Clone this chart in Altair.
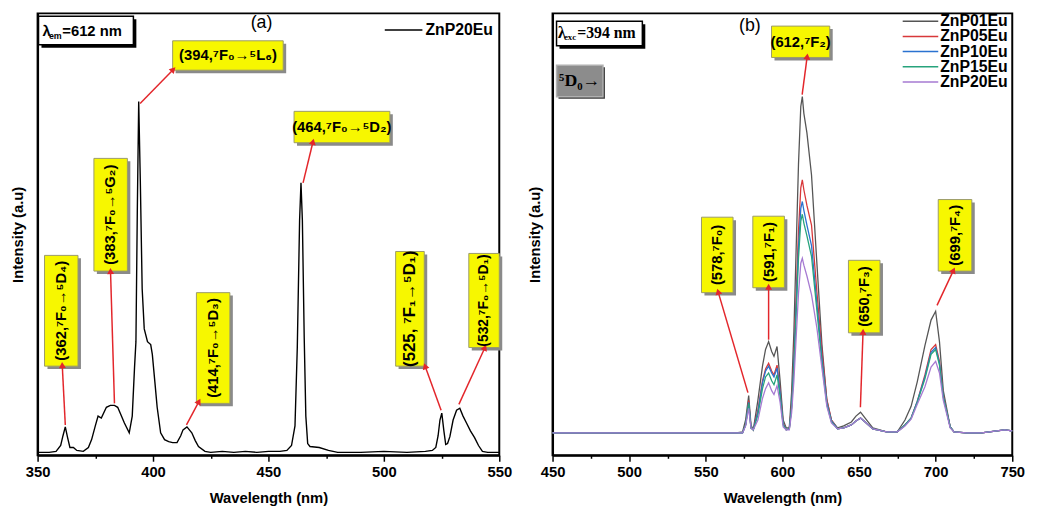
import altair as alt
import pandas as pd

SANS = "Liberation Sans"
SERIF = "Liberation Serif"

# ---------------- Panel (a): excitation spectrum ZnP20Eu (λem = 612 nm)
wl_a = [350, 355, 358, 360, 361, 362, 363, 364, 365.5, 367, 369.8, 372, 373.4, 375, 376.2,
        377.6, 379.8, 381.5, 383.3, 384.7, 386, 387.6, 389.7, 391, 392, 392.6, 393.2, 393.8,
        394.5, 395.3, 396.2, 397.6, 399, 399.7, 400.8, 401.8, 403.3, 405, 406.8, 408.5, 410.4,
        412, 413, 414.7, 416.8, 418.3, 419.7, 422.5, 425, 430, 435, 440, 445, 450, 455, 458,
        460, 461.5, 462.5, 463.5, 464.1, 464.7, 465.5, 466.2, 467, 468, 472, 476, 480, 490,
        500, 510, 518, 521, 522.5, 523.5, 524.3, 525.1, 526, 526.8, 527.6, 528.6, 530, 531.5,
        532.9, 534.3, 535.8, 537.5, 539.3, 541, 542.7, 545, 548, 550]
int_a = [3, 3, 4, 10, 20, 29, 18, 8, 8, 5, 4, 8, 16, 30, 40,
         38, 49, 51, 51, 49, 42, 33, 23, 40, 90, 116, 250, 361,
         280, 170, 129, 116, 113, 103, 75, 49, 23, 16, 14, 13, 13,
         20, 26, 29, 23, 15, 9, 4, 3, 4, 3, 4, 3, 4, 4, 5,
         10, 30, 110, 240, 278, 240, 120, 40, 12, 9, 8, 5, 3, 3,
         4, 3, 4, 5, 8, 20, 36, 43, 25, 11, 12, 19, 36, 46,
         48, 40, 33, 25, 18, 10, 4, 3, 3, 3]

# ---------------- Panel (b): emission spectra (λexc = 394 nm)
wl_b = [450, 500, 550, 570, 574, 576, 578, 579.5, 581, 584, 587, 589, 591, 593, 594.5, 596.5,
        598.5, 600.5, 602.5, 604.5, 606, 607.5, 609, 610.5, 612, 613, 614, 616, 619, 622.5,
        625.8, 629, 632, 636, 640, 645, 648, 651, 654, 659, 668, 675, 680, 684, 688, 693, 697,
        700, 702.5, 705, 709.5, 712, 720, 730, 740, 745, 750]
znp01 = [23, 23, 23, 23, 24, 36, 61, 31, 26, 56, 91, 108, 116, 106, 101, 111,
         76, 36, 28, 28, 64, 126, 212, 297, 356, 366, 349, 329, 286, 196,
         113, 56, 36, 28, 30, 34, 40, 44, 38, 28, 24, 24, 36, 50, 75, 112, 138,
         147, 116, 66, 29, 24, 23, 23, 25, 26, 25]
znp05 = [23, 23, 23, 23, 23, 31, 56, 28, 26, 46, 76, 88, 94, 86, 82, 92,
         66, 33, 26, 27, 51, 100, 165, 229, 273, 281, 271, 255, 235, 167,
         106, 57, 36, 27, 28, 31, 35, 38, 34, 27, 24, 24, 31, 38, 55, 82, 108,
         113, 96, 61, 29, 24, 23, 23, 25, 26, 25]
znp10 = [23, 23, 23, 23, 23, 31, 54, 28, 26, 44, 74, 86, 91, 84, 80, 89,
         64, 32, 26, 27, 49, 94, 153, 212, 252, 259, 250, 235, 214, 155,
         99, 54, 35, 27, 28, 31, 35, 38, 34, 27, 24, 24, 31, 38, 55, 80, 105,
         110, 94, 60, 29, 24, 23, 23, 25, 26, 25]
znp15 = [23, 23, 23, 23, 23, 31, 53, 28, 26, 41, 68, 80, 84, 76, 72, 82,
         60, 31, 26, 27, 48, 90, 146, 201, 239, 246, 237, 224, 203, 148,
         94, 52, 34, 27, 28, 31, 35, 38, 34, 27, 24, 24, 31, 38, 54, 78, 103,
         108, 92, 59, 29, 24, 23, 23, 25, 26, 25]
znp20 = [23, 23, 23, 23, 23, 30, 48, 28, 26, 36, 58, 68, 74, 66, 62, 71,
         54, 29, 26, 26, 43, 76, 121, 165, 196, 201, 194, 183, 164, 130,
         89, 50, 33, 27, 28, 31, 35, 38, 34, 27, 24, 24, 30, 37, 52, 70, 90,
         96, 84, 56, 28, 24, 23, 23, 25, 26, 25]

series_names = ["ZnP01Eu", "ZnP05Eu", "ZnP10Eu", "ZnP15Eu", "ZnP20Eu"]
series_vals = [znp01, znp05, znp10, znp15, znp20]
series_colors = ["#555555", "#d8383a", "#2a72d0", "#27a37c", "#a67ad2"]

# ---------------- Annotations, panel (a)
a_box_x1 = [408.5, 461.1, 353.0, 374.4, 418.8, 505.1, 536.8]
a_box_x2 = [456.4, 502.6, 367.5, 388.9, 433.3, 517.5, 550.0]
a_box_y1 = [423, 351, 204, 303, 166, 208, 206]
a_box_y2 = [393, 319, 91, 188, 53, 91, 110]
a_lab_x = [432.5, 481.8, 360.3, 381.6, 426.1, 511.3, 543.4]
a_lab_y = [408, 335, 147.5, 245.5, 109.5, 149.5, 158]
a_lab_text = ["(394,⁷F₀→⁵L₆)", "(464,⁷F₀→⁵D₂)", "(362,⁷F₀→⁵D₄)", "(383,⁷F₀→⁵G₂)",
              "(414,⁷F₀→⁵D₃)", "(525, ⁷F₁→⁵D₁)", "(532,⁷F₀→⁵D₁)"]
a_lab_angle = [0, 0, 270, 270, 270, 270, 270]
a_lab_size = [15, 15, 15, 15, 15, 17, 14]
a_arr_x1 = [394.4, 465.0, 362.0, 383.3, 414.5, 524.8, 532.5]
a_arr_y1 = [359, 278, 31, 53, 31, 46, 52]
a_arr_x2 = [408.5, 469.2, 360.7, 381.6, 419.7, 518.0, 543.6]
a_arr_y2 = [393, 319, 91, 187, 54, 90, 109]
a_arr_angle = [44, 14, 357, 358, 28, 340, 24]

# ---------------- Annotations, panel (b)
b_box_x1 = [592.9, 547.2, 580.7, 643.1, 701.7]
b_box_x2 = [630.9, 567.8, 601.3, 663.7, 723.6]
b_box_y1 = [438, 243, 244, 199, 261]
b_box_y2 = [406, 166, 171, 125, 188]
b_lab_x = [611.9, 557.5, 591.0, 653.4, 712.6]
b_lab_y = [422, 204.5, 207.5, 162, 224.5]
b_lab_text = ["(612,⁷F₂)", "(578,⁷F₀)", "(591,⁷F₁)", "(650,⁷F₃)", "(699,⁷F₄)"]
b_lab_angle = [0, 270, 270, 270, 270]
b_arr_x1 = [612.9, 577.5, 591.0, 650.9, 700.9]
b_arr_y1 = [368, 64, 118, 49, 153]
b_arr_x2 = [616.1, 558.2, 591.0, 652.6, 711.4]
b_arr_y2 = [406, 166, 171, 125, 188]
b_arr_angle = [7, 344, 0, 2, 25]

YELLOW = "#f7f700"
RED = "#e3262b"

ticks_a = [350, 375, 400, 425, 450, 475, 500, 525, 550]
ticks_b = [450, 475, 500, 525, 550, 575, 600, 625, 650, 675, 700, 725, 750]

W_A, W_B, H = 468, 466, 448
YDOM = [0, 451]


def x_axis(vals):
    return alt.Axis(values=vals, title="Wavelength (nm)", format="d",
                    labelExpr="datum.value % 50 === 0 ? datum.label : ''",
                    tickSize={"condition": {"test": "datum.value % 50 !== 0", "value": 3}, "value": 6},
                    labelPadding=3, titlePadding=12, labelFlush=False)


def y_axis(pad):
    return alt.Axis(labels=False, ticks=False, title="Intensity (a.u)", titlePadding=pad)


def panel(xdom, ticks, ypad, width, main_layers, boxes, labels, arrows, extra_layers):
    xs = alt.Scale(domain=xdom, nice=False, zero=False)
    ys = alt.Scale(domain=YDOM, nice=False, zero=False)
    xa = x_axis(ticks)
    ya = y_axis(ypad)

    def X(f):
        return alt.X(f, type="quantitative", scale=xs, axis=xa)

    def Y(f):
        return alt.Y(f, type="quantitative", scale=ys, axis=ya)

    layers = []
    for df, mark in main_layers:
        layers.append(mark(alt.Chart(df)).encode(x=X("x"), y=Y("y")))
    shadow = alt.Chart(boxes).mark_rect(color="#8a8a8a", xOffset=3, x2Offset=3,
                                        yOffset=3, y2Offset=3).encode(
        x=X("x1"), x2="x2", y=Y("y1"), y2="y2")
    box = alt.Chart(boxes).mark_rect(color=YELLOW, stroke="#9a9a6a", strokeWidth=1).encode(
        x=X("x1"), x2="x2", y=Y("y1"), y2="y2")
    arr_line = alt.Chart(arrows).mark_rule(color=RED, strokeWidth=1.5).encode(
        x=X("x1"), x2="x2", y=Y("y1"), y2="y2")
    arr_head = alt.Chart(arrows).mark_point(shape="triangle", filled=True, color=RED,
                                            opacity=1, size=50).encode(
        x=X("x2"), y=Y("y2"), angle=alt.Angle("angle:Q", scale=None))
    txt = alt.Chart(labels).mark_text(font=SANS, fontWeight="bold", color="black",
                                      align="center", baseline="middle").encode(
        x=X("x"), y=Y("y"), text="text:N",
        angle=alt.Angle("angle:Q", scale=None), size=alt.Size("size:Q", scale=None))
    layers += [shadow, box, arr_line, arr_head, txt]
    for df, mk, enc in extra_layers:
        e = dict(enc)
        e["x"] = X(e["x"])
        e["y"] = Y(e["y"])
        layers.append(mk(alt.Chart(df)).encode(**e))
    return alt.layer(*layers).properties(width=width, height=H)


# ---------- panel (a) data frames
df_a = pd.DataFrame({"x": wl_a, "y": int_a})
boxes_a = pd.DataFrame({"x1": a_box_x1, "x2": a_box_x2, "y1": a_box_y1, "y2": a_box_y2})
labels_a = pd.DataFrame({"x": a_lab_x, "y": a_lab_y, "text": a_lab_text,
                         "angle": a_lab_angle, "size": a_lab_size})
arrows_a = pd.DataFrame({"x1": a_arr_x1, "y1": a_arr_y1, "x2": a_arr_x2, "y2": a_arr_y2,
                         "angle": a_arr_angle})
lam_a_box = pd.DataFrame({"x1": [350.4], "x2": [391.5], "y1": [448], "y2": [419]})
lam_a_main = pd.DataFrame({"x": [352.1, 360.7], "y": [433, 433], "text": ["λ", "=612 nm"]})
lam_a_sub = pd.DataFrame({"x": [354.9], "y": [428], "text": ["em"]})
paren_a = pd.DataFrame({"x": [447.0], "y": [441], "text": ["(a)"]})
leg_a_line = pd.DataFrame({"x1": [500.4], "x2": [516.7], "y": [434]})
leg_a_text = pd.DataFrame({"x": [518.0], "y": [434], "text": ["ZnP20Eu"]})

extra_a = [
    (lam_a_box, lambda c: c.mark_rect(color="black", xOffset=3, x2Offset=3, yOffset=3, y2Offset=3),
     {"x": "x1", "x2": "x2", "y": "y1", "y2": "y2"}),
    (lam_a_box, lambda c: c.mark_rect(color="white", stroke="black", strokeWidth=1.5),
     {"x": "x1", "x2": "x2", "y": "y1", "y2": "y2"}),
    (lam_a_main, lambda c: c.mark_text(font=SANS, fontWeight="bold", fontSize=15, align="left",
                                       baseline="middle", color="black"),
     {"x": "x", "y": "y", "text": "text:N"}),
    (lam_a_sub, lambda c: c.mark_text(font=SANS, fontWeight="bold", fontSize=9, align="left",
                                      baseline="middle", color="black"),
     {"x": "x", "y": "y", "text": "text:N"}),
    (paren_a, lambda c: c.mark_text(font=SANS, fontSize=18, align="center", baseline="middle",
                                    color="black"),
     {"x": "x", "y": "y", "text": "text:N"}),
    (leg_a_line, lambda c: c.mark_rule(color="black", strokeWidth=1.5),
     {"x": "x1", "x2": "x2", "y": "y"}),
    (leg_a_text, lambda c: c.mark_text(font=SANS, fontWeight="bold", fontSize=16, align="left",
                                       baseline="middle", color="black"),
     {"x": "x", "y": "y", "text": "text:N"}),
]

left = panel([350, 550], ticks_a, 12, W_A,
             [(df_a, lambda c: c.mark_line(color="black", strokeWidth=1.4))],
             boxes_a, labels_a, arrows_a, extra_a)

# ---------- panel (b) data frames
rows = []
for name, vals in zip(series_names, series_vals):
    for w, v in zip(wl_b, vals):
        rows.append({"x": w, "y": v, "series": name})
df_b = pd.DataFrame(rows)
boxes_b = pd.DataFrame({"x1": b_box_x1, "x2": b_box_x2, "y1": b_box_y1, "y2": b_box_y2})
labels_b = pd.DataFrame({"x": b_lab_x, "y": b_lab_y, "text": b_lab_text,
                         "angle": b_lab_angle, "size": [15] * len(b_lab_x)})
arrows_b = pd.DataFrame({"x1": b_arr_x1, "y1": b_arr_y1, "x2": b_arr_x2, "y2": b_arr_y2,
                         "angle": b_arr_angle})
lam_b_box = pd.DataFrame({"x1": [452.6], "x2": [508.6], "y1": [443], "y2": [418]})
lam_b_main = pd.DataFrame({"x": [453.5, 466.1], "y": [431, 431], "text": ["λ", "=394 nm"]})
lam_b_sub = pd.DataFrame({"x": [457.4], "y": [427], "text": ["exc"]})
d0_box = pd.DataFrame({"x1": [452.6], "x2": [482.9], "y1": [398], "y2": [366]})
d0_text = pd.DataFrame({"x": [467.7], "y": [382], "text": ["⁵D₀→"]})
paren_b = pd.DataFrame({"x": [578.8], "y": [438], "text": ["(b)"]})
leg_y = [443, 427.5, 412, 396.5, 381]
leg_b = pd.DataFrame({"x1": [678.5] * 5, "x2": [701.7] * 5, "y": leg_y,
                      "series": series_names, "tx": [703.0] * 5})

color_b = alt.Color("series:N", scale=alt.Scale(domain=series_names, range=series_colors),
                    legend=None)

extra_b = [
    (lam_b_box, lambda c: c.mark_rect(color="black", xOffset=3, x2Offset=3, yOffset=3, y2Offset=3),
     {"x": "x1", "x2": "x2", "y": "y1", "y2": "y2"}),
    (lam_b_box, lambda c: c.mark_rect(color="white", stroke="black", strokeWidth=1.5),
     {"x": "x1", "x2": "x2", "y": "y1", "y2": "y2"}),
    (lam_b_main, lambda c: c.mark_text(font=SERIF, fontWeight="bold", fontSize=16, align="left",
                                       baseline="middle", color="black"),
     {"x": "x", "y": "y", "text": "text:N"}),
    (lam_b_sub, lambda c: c.mark_text(font=SERIF, fontWeight="bold", fontSize=9, align="left",
                                      baseline="middle", color="black"),
     {"x": "x", "y": "y", "text": "text:N"}),
    (d0_box, lambda c: c.mark_rect(color="#3a3a3a", xOffset=2, x2Offset=2, yOffset=2, y2Offset=2),
     {"x": "x1", "x2": "x2", "y": "y1", "y2": "y2"}),
    (d0_box, lambda c: c.mark_rect(color="#8c8c8c", stroke="#b0b0b0", strokeWidth=1.5),
     {"x": "x1", "x2": "x2", "y": "y1", "y2": "y2"}),
    (d0_text, lambda c: c.mark_text(font=SERIF, fontWeight="bold", fontSize=18, align="center",
                                    baseline="middle", color="black"),
     {"x": "x", "y": "y", "text": "text:N"}),
    (paren_b, lambda c: c.mark_text(font=SANS, fontSize=18, align="center", baseline="middle",
                                    color="black"),
     {"x": "x", "y": "y", "text": "text:N"}),
    (leg_b, lambda c: c.mark_rule(strokeWidth=1.5),
     {"x": "x1", "x2": "x2", "y": "y", "color": color_b}),
    (leg_b, lambda c: c.mark_text(font=SANS, fontWeight="bold", fontSize=16, align="left",
                                  baseline="middle", color="black"),
     {"x": "tx", "y": "y", "text": "series:N"}),
]

right = panel([450, 750], ticks_b, 10, W_B,
              [(df_b, lambda c: c.mark_line(strokeWidth=1.3).encode(color=color_b))],
              boxes_b, labels_b, arrows_b, extra_b)

chart = alt.hconcat(left, right, spacing=14).properties(
    padding={"left": 2, "top": 0, "right": 5, "bottom": 0}
).configure_view(stroke="black", strokeWidth=2).configure_axis(
    domainColor="black", domainWidth=2, tickColor="black", tickWidth=1.5, grid=False,
    labelFont=SANS, labelFontSize=15, labelFontWeight="bold", labelColor="black",
    titleFont=SANS, titleFontSize=15, titleFontWeight="bold", titleColor="black"
)

chart.save("out.html", embed_options={"renderer": "svg", "actions": False})
